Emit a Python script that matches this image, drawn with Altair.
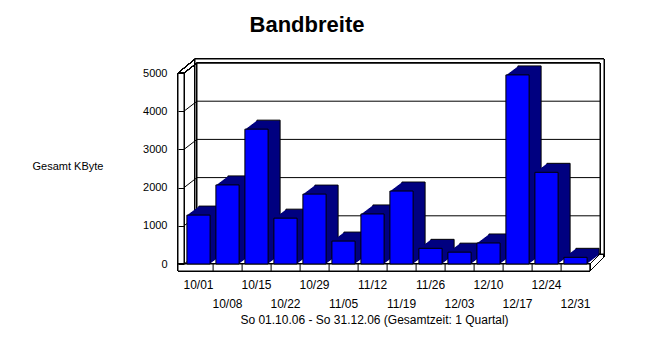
import altair as alt
import pandas as pd

# ---- data ----
weeks = ["10/01", "10/08", "10/15", "10/22", "10/29", "11/05", "11/12",
         "11/19", "11/26", "12/03", "12/10", "12/17", "12/24", "12/31"]
kbyte = [1280, 2070, 3530, 1200, 1830, 600, 1310, 1910, 410, 310, 550, 4950, 2400, 175]
tick_values = [0, 1000, 2000, 3000, 4000, 5000]
second_row = weeks[1::2]

title_text = "Bandbreite"
y_title = "Gesamt KByte"
footer = "So 01.10.06 - So 31.12.06 (Gesamtzeit: 1 Quartal)"

df = pd.DataFrame({"week": weeks, "kbyte": kbyte})
ticks_df = pd.DataFrame({"v": tick_values})

FONT = "Liberation Sans"
FRONT = "#0000ff"
SIDE = "#000080"
W, H = 406, 191

yscale = alt.Scale(domain=[0, 5000], nice=False, zero=True)
xscale = alt.Scale(paddingInner=0.2, paddingOuter=0.1)

row2_js = "[" + ",".join("'%s'" % w for w in second_row) + "]"

x_axis = alt.Axis(
    domain=False, ticks=False, labelAngle=0, labelPadding=15,
    labelFont=FONT, labelFontSize=12, labelColor="black",
    labelLineHeight=19, labelBaseline="top",
    labelExpr="indexof(%s, datum.value) >= 0 ? ['', datum.label] : datum.label" % row2_js,
    title=footer, titleFont=FONT, titleFontSize=12, titleFontWeight="normal",
    titleColor="black", titleX=190, titleY=50, titleAlign="center",
    titleBaseline="top", labelOverlap=False, grid=False,
)
y_axis = alt.Axis(
    values=tick_values, format="d", domain=False, grid=False, tickSize=6,
    tickColor="black", labelPadding=11, labelFont=FONT, labelFontSize=11,
    labelColor="black", zindex=1, title=y_title, titleAngle=0, titleX=-152,
    titleY=93, titleAlign="left", titleBaseline="middle", titleFont=FONT,
    titleFontSize=11, titleFontWeight="normal", titleColor="black",
)

X_WEEK = dict(scale=xscale, sort=weeks, axis=x_axis)


def rule(x, y, x2, y2):
    return alt.Chart(df).mark_rule(color="black", strokeWidth=1).encode(
        x=alt.value(x), y=alt.value(y), x2=alt.value(x2), y2=alt.value(y2))


# ---- frame ----
back_outer = alt.Chart(df).mark_rect(fill="white", stroke="black", strokeWidth=1).encode(
    x=alt.value(11), x2=alt.value(420), y=alt.value(-14), y2=alt.value(181))
back_inner = alt.Chart(df).mark_rect(fill="white", stroke="black", strokeWidth=1).encode(
    x=alt.value(13), x2=alt.value(416), y=alt.value(-10), y2=alt.value(181))
grid = alt.Chart(ticks_df).mark_rule(color="black", strokeWidth=1, yOffset=-10).encode(
    y=alt.Y("v:Q", scale=yscale, axis=y_axis), x=alt.value(13), x2=alt.value(416))
diag = alt.Chart(ticks_df).mark_rule(color="black", strokeWidth=1, y2Offset=-10).encode(
    y=alt.Y("v:Q", scale=yscale, axis=y_axis), y2="v:Q", x=alt.value(0), x2=alt.value(13))
left_slab = alt.Chart(df).mark_rect(fill="white", stroke="black", strokeWidth=1).encode(
    x=alt.value(-6), x2=alt.value(0), y=alt.value(0), y2=alt.value(198))
floor = alt.Chart(df).mark_rect(fill="white", stroke="black", strokeWidth=1).encode(
    x=alt.value(-6), x2=alt.value(406), y=alt.value(191), y2=alt.value(198))
separators = alt.Chart(df).mark_rule(color="black", strokeWidth=1, xOffset=3).encode(
    x=alt.X("week:N", bandPosition=1, **X_WEEK),
    y=alt.value(191), y2=alt.value(198))

frame_lines = [
    rule(-6, 0, 11, -14),
    rule(0, 0, 13, -10),
    rule(406, 191, 416, 181),
    rule(406, 198, 420, 184),
    rule(420, 181, 420, 184),
]

# ---- bars with extrusion ----
depth_layers = []
for k in range(12, 0, -1):
    props = dict(color=SIDE, xOffset=k, yOffset=-0.75 * k)
    if k == 12:
        props.update(stroke="black", strokeWidth=1)
    depth_layers.append(
        alt.Chart(df).mark_bar(**props).encode(
            x=alt.X("week:N", **X_WEEK),
            y=alt.Y("kbyte:Q", scale=yscale, axis=y_axis),
        )
    )

front = alt.Chart(df).mark_bar(color=FRONT, stroke="black", strokeWidth=1).encode(
    x=alt.X("week:N", **X_WEEK),
    y=alt.Y("kbyte:Q", scale=yscale, axis=y_axis),
)

chart = alt.layer(
    back_outer, back_inner, grid, left_slab, diag, *frame_lines, floor, separators,
    *depth_layers, front,
).properties(
    width=W, height=H,
    padding={"left": 184, "top": 73, "right": 76, "bottom": 79},
    autosize=alt.AutoSizeParams(type="none"),
    background="white",
    title=alt.TitleParams(text=title_text, font=FONT, fontSize=22, fontWeight="bold",
                          color="black", anchor="middle", dx=-80, offset=5,
                          baseline="alphabetic"),
).configure_view(stroke=None)

chart.save("out.html", embed_options={"renderer": "svg", "actions": False})
